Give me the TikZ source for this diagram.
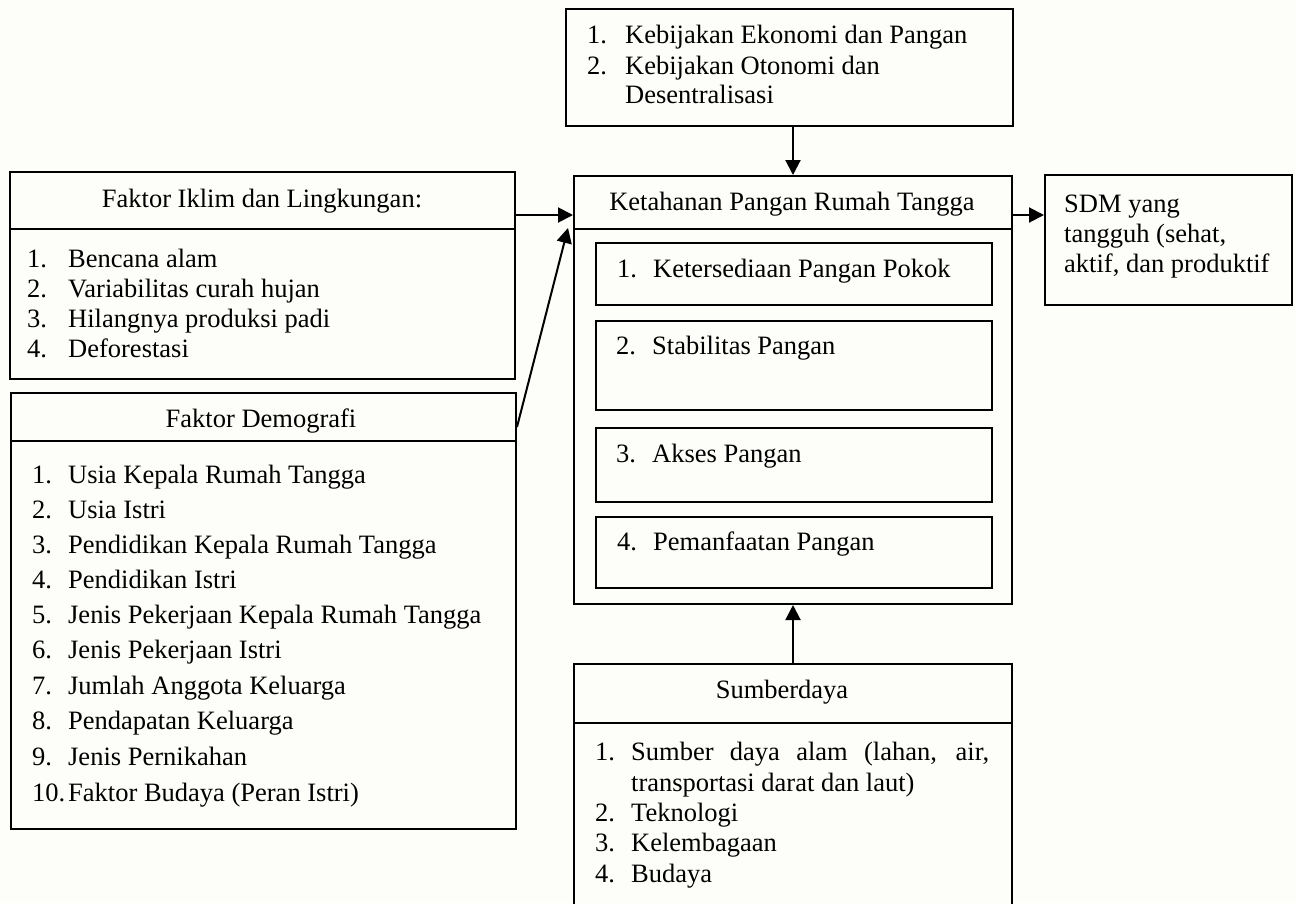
\documentclass[tikz,border=0pt]{standalone}
\usepackage{fontspec}
\setmainfont{Liberation Serif}
\usetikzlibrary{arrows.meta}
\definecolor{bgcol}{RGB}{253,253,249}
\newcommand{\itm}[3]{\makebox[#1][l]{#2}#3}
\begin{document}
\begin{tikzpicture}[x=1pt,y=1pt,
  box/.style={draw=black,line width=2pt,inner sep=0pt,anchor=north west,fill=bgcol},
  txt/.style={anchor=base west,inner sep=0pt,font=\fontsize{26.5}{30}\selectfont},
  ctxt/.style={anchor=base,inner sep=0pt,font=\fontsize{26.5}{30}\selectfont},
  arr/.style={line width=2pt,-{Triangle[length=15pt,width=15pt]}}]
\useasboundingbox (0,0) rectangle (1296,-903);
\fill[bgcol] (0,0) rectangle (1296,-903);
% boxes
\node[box,minimum width=447pt,minimum height=117pt] (top) at (565,-8) {};
\node[box,minimum width=438pt,minimum height=53pt] (kethead) at (573,-175) {};
\node[box,minimum width=438pt,minimum height=375pt] (ketbody) at (573,-228) {};
\node[box,minimum width=396pt,minimum height=62pt] (in1) at (595,-242) {};
\node[box,minimum width=396pt,minimum height=89pt] (in2) at (595,-320) {};
\node[box,minimum width=396pt,minimum height=74pt] (in3) at (595,-427) {};
\node[box,minimum width=396pt,minimum height=71pt] (in4) at (595,-516) {};
\node[box,minimum width=247pt,minimum height=130pt] (sdm) at (1044,-174) {};
\node[box,minimum width=505pt,minimum height=57pt] (iklimhead) at (9,-171) {};
\node[box,minimum width=505pt,minimum height=150pt] (iklimbody) at (9,-228) {};
\node[box,minimum width=505pt,minimum height=48pt] (demohead) at (10,-392) {};
\node[box,minimum width=505pt,minimum height=388pt] (demobody) at (10,-440) {};
\node[box,minimum width=438pt,minimum height=59pt] (sumhead) at (573,-663) {};
\node[box,minimum width=438pt,minimum height=200pt] (sumbody) at (573,-722) {};
% texts: top box
\node[txt] (tp1) at (587,-43) {\itm{38pt}{1.}{Kebijakan Ekonomi dan Pangan}};
\node[txt] (tp2) at (587,-74) {\itm{38pt}{2.}{Kebijakan Otonomi dan}};
\node[txt] (tp3) at (625,-103) {Desentralisasi};
% Ketahanan
\node[ctxt] (kt) at (792,-210) {Ketahanan Pangan Rumah Tangga};
\node[txt] (k1) at (617,-277) {\itm{36pt}{1.}{Ketersediaan Pangan Pokok}};
\node[txt] (k2) at (616,-354) {\itm{36pt}{2.}{Stabilitas Pangan}};
\node[txt] (k3) at (616,-462) {\itm{36pt}{3.}{Akses Pangan}};
\node[txt] (k4) at (617,-550) {\itm{36pt}{4.}{Pemanfaatan Pangan}};
% SDM
\node[txt] (s1) at (1064,-212) {SDM yang};
\node[txt] (s2) at (1064,-242) {tangguh (sehat,};
\node[txt] (s3) at (1064,-272) {aktif, dan produktif};
% Iklim
\node[ctxt] (it) at (262,-207) {Faktor Iklim dan Lingkungan:};
\node[txt] (i1) at (27,-267) {\itm{41pt}{1.}{Bencana alam}};
\node[txt] (i2) at (27,-297) {\itm{41pt}{2.}{Variabilitas curah hujan}};
\node[txt] (i3) at (27,-327) {\itm{41pt}{3.}{Hilangnya produksi padi}};
\node[txt] (i4) at (27,-357) {\itm{41pt}{4.}{Deforestasi}};
% Demografi
\node[ctxt] (dt) at (261,-427) {Faktor Demografi};
\node[txt] (d01) at (32,-483) {\itm{36pt}{1.}{Usia Kepala Rumah Tangga}};
\node[txt] (d02) at (32,-518) {\itm{36pt}{2.}{Usia Istri}};
\node[txt] (d03) at (32,-553) {\itm{36pt}{3.}{Pendidikan Kepala Rumah Tangga}};
\node[txt] (d04) at (32,-588) {\itm{36pt}{4.}{Pendidikan Istri}};
\node[txt] (d05) at (32,-623) {\itm{36pt}{5.}{Jenis Pekerjaan Kepala Rumah Tangga}};
\node[txt] (d06) at (32,-658) {\itm{36pt}{6.}{Jenis Pekerjaan Istri}};
\node[txt] (d07) at (32,-694) {\itm{36pt}{7.}{Jumlah Anggota Keluarga}};
\node[txt] (d08) at (32,-729) {\itm{36pt}{8.}{Pendapatan Keluarga}};
\node[txt] (d09) at (32,-765) {\itm{36pt}{9.}{Jenis Pernikahan}};
\node[txt] (d10) at (32,-801) {\itm{36pt}{10.}{Faktor Budaya (Peran Istri)}};
% Sumberdaya
\node[ctxt] (st) at (782,-698) {Sumberdaya};
\node[txt] (u1) at (595,-760) {\itm{36pt}{1.}{\makebox[358pt][s]{Sumber daya alam (lahan, air,}}};
\node[txt] (u1b) at (631,-791) {transportasi darat dan laut)};
\node[txt] (u2) at (595,-821) {\itm{36pt}{2.}{Teknologi}};
\node[txt] (u3) at (595,-851) {\itm{36pt}{3.}{Kelembagaan}};
\node[txt] (u4) at (595,-882) {\itm{36pt}{4.}{Budaya}};
% connectors
\draw[arr] (kethead.north |- top.south) -- (kethead.north);
\coordinate (r1) at ([yshift=-40pt]kethead.north east);
\draw[arr] (r1) -- (r1 -| sdm.west);
\coordinate (l1) at ([yshift=-44pt]iklimhead.north east);
\draw[arr] (l1) -- (l1 -| kethead.west);
\coordinate (d1) at ([yshift=-35pt]demohead.north east);
\coordinate (d2) at ([xshift=-5pt]ketbody.north west);
\draw[arr] (d1) -- (d2);
\draw[arr] (sumhead.north) -- (ketbody.south);
\end{tikzpicture}
\end{document}
